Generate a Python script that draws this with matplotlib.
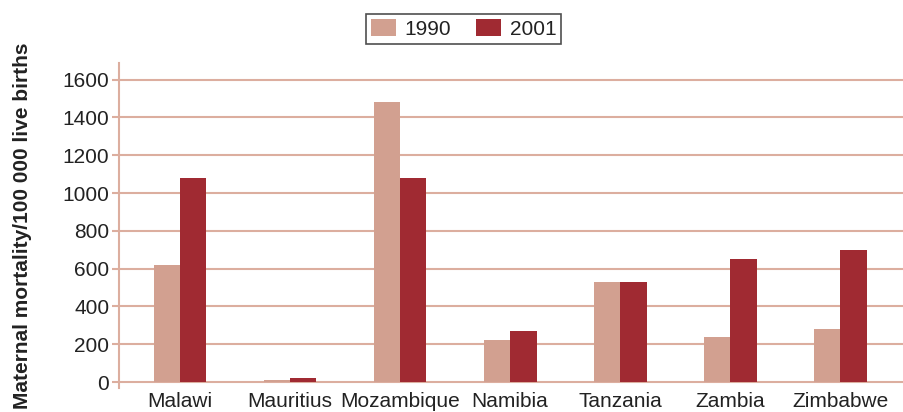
import matplotlib.pyplot as plt
import numpy as np

plt.rcParams['font.family'] = ['Liberation Sans', 'DejaVu Sans']

# data
countries = ['Malawi', 'Mauritius', 'Mozambique', 'Namibia', 'Tanzania', 'Zambia', 'Zimbabwe']
y1990 = [620, 10, 1480, 220, 530, 240, 280]
y2001 = [1080, 24, 1080, 270, 530, 650, 700]
yticks = [0, 200, 400, 600, 800, 1000, 1200, 1400, 1600]

c1990 = '#d2a090'
c2001 = '#a02a32'
gridc = '#dcae9f'
textc = '#222222'

fig = plt.figure(figsize=(9.04, 4.12), dpi=100)
ax = fig.add_axes([0.1316, 0.058, 0.8684, 0.789])

x = np.arange(len(countries))
w = 0.24
ax.bar(x - w / 2, y1990, w, color=c1990, label='1990', zorder=3)
ax.bar(x + w / 2, y2001, w, color=c2001, label='2001', zorder=3)

ax.set_xlim(-0.555, 6.58)
ax.set_ylim(-32, 1688)
ax.set_yticks(yticks)
ax.set_xticks(x)
ax.set_xticklabels(countries, fontsize=15, color=textc)
ax.tick_params(axis='y', labelsize=15, labelcolor=textc, color=gridc,
               length=5, width=1.5, pad=2)
ax.tick_params(axis='x', length=0, pad=3)
ax.grid(axis='y', color=gridc, linewidth=1.5, zorder=0)

for s in ['top', 'right', 'bottom']:
    ax.spines[s].set_visible(False)
ax.spines['left'].set_color(gridc)
ax.spines['left'].set_linewidth(1.5)

fig.text(0.025, 0.452, 'Maternal mortality/100 000 live births', rotation=90,
         fontsize=15, fontweight='bold', color=textc, ha='center', va='center')

leg = fig.legend(loc='center', bbox_to_anchor=(0.513, 0.93), ncol=2,
                 fontsize=15, frameon=True, fancybox=False, handlelength=1.2,
                 handleheight=0.9, handletextpad=0.4, columnspacing=1.2,
                 borderpad=0.25, borderaxespad=0)
leg.get_frame().set_edgecolor('#222222')
leg.get_frame().set_linewidth(1.2)
for t in leg.get_texts():
    t.set_color(textc)

fig.savefig('out.png', dpi=100)
